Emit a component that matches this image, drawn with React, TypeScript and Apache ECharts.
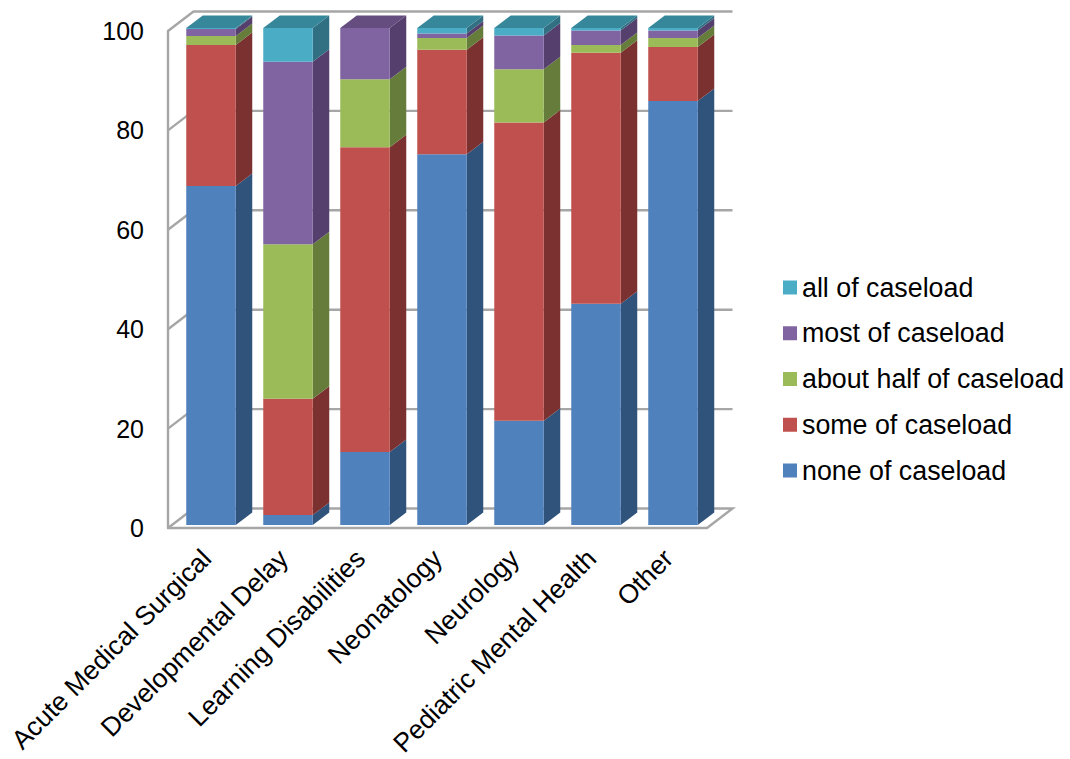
import React, { useEffect, useRef } from "react";
import * as echarts from "echarts";

const categories = [
  "Acute Medical Surgical",
  "Developmental Delay",
  "Learning Disabilities",
  "Neonatology",
  "Neurology",
  "Pediatric Mental Health",
  "Other",
];
const seriesNames = [
  "none of caseload",
  "some of caseload",
  "about half of caseload",
  "most of caseload",
  "all of caseload",
];
const noneValues = [68.2, 2, 14.7, 74.6, 21, 44.5, 85.3];
const someValues = [28.4, 23.4, 61.3, 21, 60, 50.5, 10.9];
const halfValues = [1.8, 31.1, 13.7, 2.4, 10.7, 1.6, 1.8];
const mostValues = [1.4, 36.7, 10.3, 0.9, 6.8, 2.9, 1.5];
const allValues = [0.2, 6.8, 0, 1.1, 1.5, 0.5, 0.5];
const tickValues = [0, 20, 40, 60, 80, 100];

const frontColors = ["#4F81BD", "#C0504D", "#9BBB59", "#8064A2", "#4BACC6"];
const sideColors = ["#30537B", "#7B3130", "#667C3A", "#553F6C", "#316F83"];
const topColors = ["#3A6A9E", "#94403E", "#78913F", "#654D80", "#37879B"];

const FONT = "Liberation Sans";
const GRID = { left: 168, top: 31, width: 539, height: 497 };
const WALL_DX = 25.5;
const WALL_DY = -19.5;
const BAR_DX = 16.5;
const BAR_DY = -12.5;
const BAR_SHIFT_X = 4.5;
const BAR_SHIFT_Y = -3;
const BAR_RATIO = 49.5 / 77;
const WALL_COLOR = "#A6A6A6";

const valueSets = [noneValues, someValues, halfValues, mostValues, allValues];

// Back wall, side wall and floor lines, one polyline per axis tick.
function renderWall(_params: any, api: any) {
  const [x0, y] = api.coord([0, api.value(0)]);
  const x1 = x0 - api.size([1, 0])[0] / 2;
  const x2 = x1 + GRID.width;
  const points = [
    [x1, y],
    [x1 + WALL_DX, y + WALL_DY],
    [x2 + WALL_DX, y + WALL_DY],
  ];
  if (api.value(0) === 0) points.push([x2, y]);
  return {
    type: "polyline",
    shape: { points },
    style: { stroke: WALL_COLOR, lineWidth: 2.4, fill: "none" },
    silent: true,
  };
}

// One stacked segment as a front face, a right face and, at the top of a bar, a lid.
function renderSegment(seriesIndex: number) {
  return (_params: any, api: any) => {
    const base = api.value(1);
    const top = api.value(2);
    if (top <= base) return null;
    const [cx, yBase] = api.coord([api.value(0), base]);
    const [, yTop] = api.coord([api.value(0), top]);
    const w = api.size([1, 0])[0] * BAR_RATIO;
    const l = cx + BAR_SHIFT_X - w / 2;
    const r = l + w;
    const b = yBase + BAR_SHIFT_Y;
    const t = yTop + BAR_SHIFT_Y;
    const children: any[] = [
      {
        type: "polygon",
        shape: { points: [[r, b], [r + BAR_DX, b + BAR_DY], [r + BAR_DX, t + BAR_DY], [r, t]] },
        style: { fill: sideColors[seriesIndex] },
      },
      {
        type: "rect",
        shape: { x: l, y: t, width: w, height: b - t },
        style: { fill: frontColors[seriesIndex] },
      },
    ];
    if (top >= 99.99) {
      children.push({
        type: "polygon",
        shape: { points: [[l, t], [r, t], [r + BAR_DX, t + BAR_DY], [l + BAR_DX, t + BAR_DY]] },
        style: { fill: topColors[seriesIndex] },
      });
    }
    return { type: "group", children };
  };
}

function stackedRows(seriesIndex: number) {
  return categories.map((_, i) => {
    let base = 0;
    for (let s = 0; s < seriesIndex; s++) base += valueSets[s][i];
    return [i, base, base + valueSets[seriesIndex][i]];
  });
}

export default function App() {
  const ref = useRef<HTMLDivElement>(null);

  useEffect(() => {
    const chart = echarts.init(ref.current!, undefined, { renderer: "svg" });
    chart.setOption({
      animation: false,
      backgroundColor: "#ffffff",
      textStyle: { fontFamily: FONT },
      grid: { ...GRID, outerBoundsMode: "none" },
      legend: {
        data: [...seriesNames].reverse().map((name) => ({ name, icon: "rect" })),
        orient: "vertical",
        left: 778,
        top: 269,
        itemWidth: 14,
        itemHeight: 14,
        itemGap: 18.75,
        selectedMode: false,
        textStyle: { fontFamily: FONT, fontSize: 26.8, color: "#000000" },
      },
      xAxis: {
        type: "category",
        data: categories,
        axisLine: { show: true, lineStyle: { color: WALL_COLOR, width: 2.4 } },
        axisTick: { show: false },
        splitLine: { show: false },
        axisLabel: {
          interval: 0,
          rotate: 45,
          margin: 26,
          fontFamily: FONT,
          fontSize: 26.5,
          color: "#000000",
        },
      },
      yAxis: {
        type: "value",
        min: 0,
        max: 100,
        interval: 20,
        axisLine: { show: true, lineStyle: { color: WALL_COLOR, width: 2.4 } },
        axisTick: { show: false },
        splitLine: { show: false },
        axisLabel: {
          margin: 24,
          padding: [4, 0, 0, 0],
          fontFamily: FONT,
          fontSize: 25,
          color: "#000000",
        },
      },
      series: [
        {
          type: "custom",
          name: "walls",
          data: tickValues.map((v) => [v]),
          renderItem: renderWall,
          encode: { y: 0 },
          silent: true,
          z: 1,
        },
        ...seriesNames.map((name, s) => ({
          type: "custom",
          name,
          data: stackedRows(s),
          renderItem: renderSegment(s),
          encode: { x: 0, y: [1, 2] },
          itemStyle: { color: frontColors[s] },
          silent: true,
          z: 3,
        })),
      ],
    });
    return () => chart.dispose();
  }, []);

  return <div ref={ref} style={{ position: "fixed", left: 0, top: 0, width: 1070, height: 759 }} />;
}
